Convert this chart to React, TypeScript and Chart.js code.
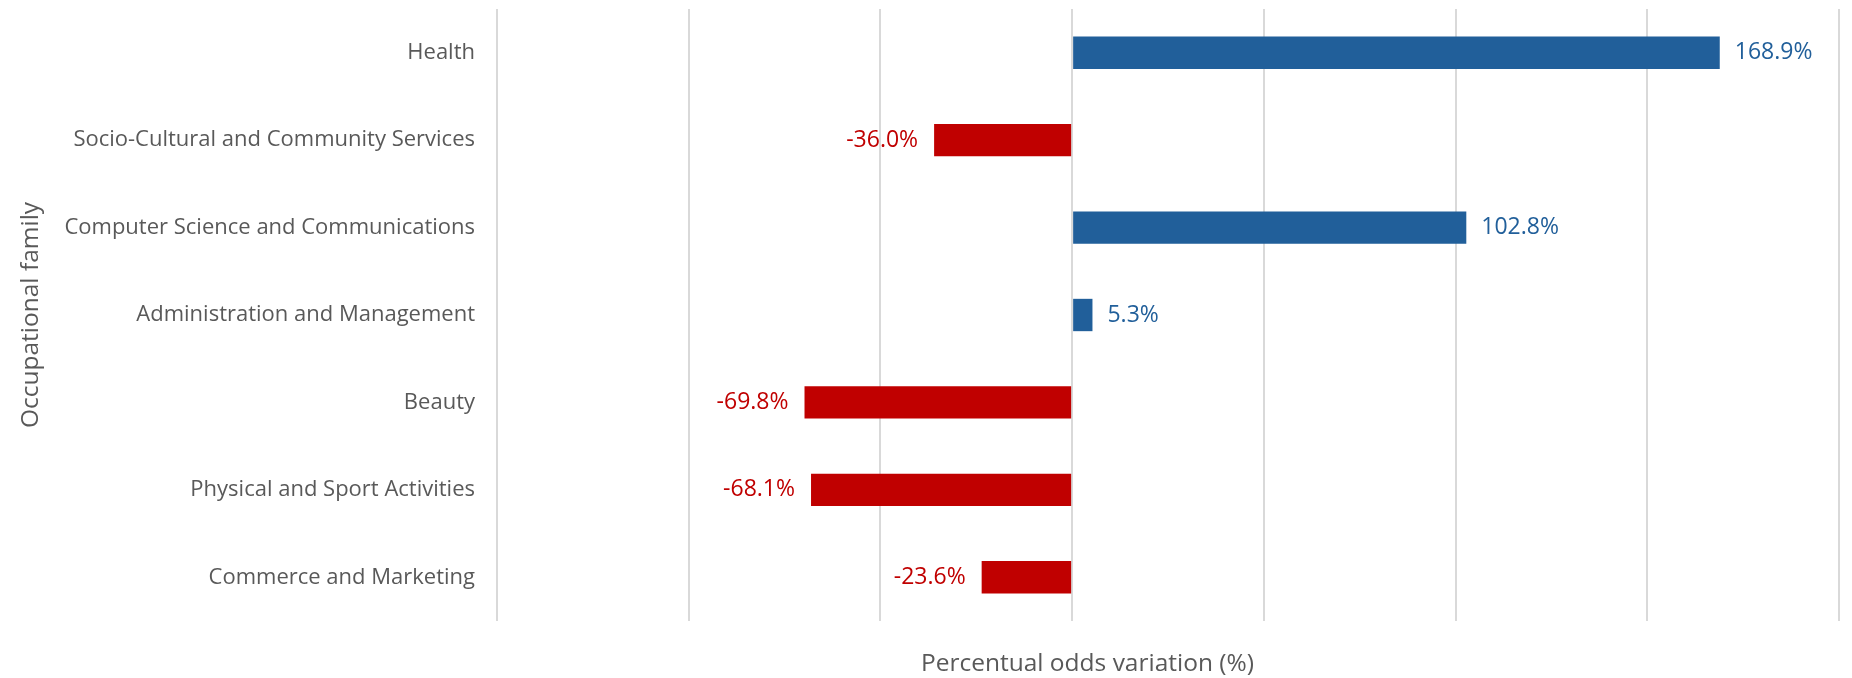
import React, { useEffect, useRef } from "react";
import { Chart, registerables } from "chart.js";

Chart.register(...registerables);

const categories = [
  "Health",
  "Socio-Cultural and Community Services",
  "Computer Science and Communications",
  "Administration and Management",
  "Beauty",
  "Physical and Sport Activities",
  "Commerce and Marketing",
];
const values = [168.9, -36.0, 102.8, 5.3, -69.8, -68.1, -23.6];
const xMin = -150;
const xMax = 200;
const xStep = 50;
const xTitle = "Percentual odds variation (%)";
const yTitle = "Occupational family";

const BLUE = "#215F9A";
const RED = "#C00000";
const GREY = "#595959";
const FONT = "'Open Sans', Roboto, sans-serif";

const labelPlugin = {
  id: "valueLabels",
  afterDatasetsDraw(chart: any) {
    const ctx = chart.ctx;
    const meta = chart.getDatasetMeta(0);
    ctx.save();
    ctx.font = `23px ${FONT}`;
    ctx.textBaseline = "middle";
    meta.data.forEach((bar: any, i: number) => {
      const v = values[i];
      const txt = v.toFixed(1) + "%";
      if (v >= 0) {
        ctx.fillStyle = BLUE;
        ctx.textAlign = "left";
        ctx.fillText(txt, bar.x + 15, bar.y);
      } else {
        ctx.fillStyle = RED;
        ctx.textAlign = "right";
        ctx.fillText(txt, bar.x - 16, bar.y);
      }
    });
    ctx.restore();
  },
};

const xTitlePlugin = {
  id: "xTitle",
  afterDraw(chart: any) {
    const ctx = chart.ctx;
    const a = chart.chartArea;
    ctx.save();
    ctx.font = `24.5px ${FONT}`;
    ctx.fillStyle = GREY;
    ctx.textAlign = "center";
    ctx.textBaseline = "middle";
    ctx.fillText(xTitle, a.left + (a.right - a.left) * 0.44, chart.height - 14);
    ctx.restore();
  },
};

export default function App() {
  const ref = useRef<HTMLCanvasElement>(null);
  useEffect(() => {
    if (!ref.current) return;
    const chart = new Chart(ref.current, {
      type: "bar",
      data: {
        labels: categories,
        datasets: [
          {
            data: values,
            backgroundColor: values.map((v) => (v >= 0 ? BLUE : RED)),
            barPercentage: 0.37,
            categoryPercentage: 1,
          },
        ],
      },
      options: {
        indexAxis: "y",
        animation: false,
        responsive: true,
        maintainAspectRatio: false,
        layout: { padding: { top: 9, right: 13, left: 0, bottom: 0 } },
        plugins: { legend: { display: false }, tooltip: { enabled: false } },
        scales: {
          x: {
            min: xMin,
            max: xMax,
            ticks: { display: false, stepSize: xStep },
            grid: { color: "#D9D9D9", lineWidth: 2, drawTicks: false },
            border: { display: false },
            afterFit(scale: any) {
              scale.height = 57;
              scale.paddingLeft = 0;
              scale.paddingRight = 0;
            },
          },
          y: {
            type: "category",
            offset: true,
            grid: { display: false, drawTicks: false },
            border: { display: false },
            ticks: {
              color: GREY,
              font: { family: FONT, size: 22 },
              padding: 22,
            },
            title: {
              display: true,
              text: yTitle,
              color: GREY,
              font: { family: FONT, size: 24.5 },
              padding: { top: 16, bottom: 0 },
            },
            afterFit(scale: any) {
              scale.width = 497;
              scale.paddingTop = 0;
              scale.paddingBottom = 0;
            },
          },
        },
      },
      plugins: [labelPlugin, xTitlePlugin],
    });
    return () => chart.destroy();
  }, []);
  return (
    <div style={{ position: "fixed", left: 0, top: 0, width: 1852, height: 678 }}>
      <canvas ref={ref} />
    </div>
  );
}
